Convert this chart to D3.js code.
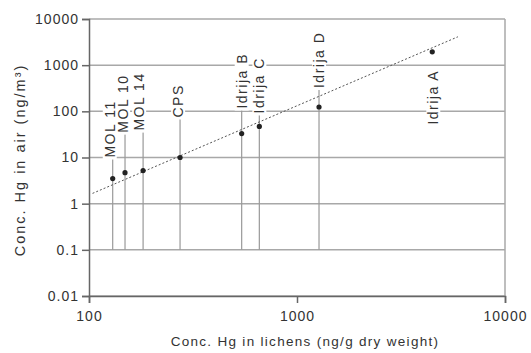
<!DOCTYPE html>
<html>
<head>
<meta charset="utf-8">
<script src="https://cdn.jsdelivr.net/npm/d3@7"></script>
<style>
  body { margin: 0; background: #fff; }
  text { font-family: "Liberation Sans", Arial, sans-serif; fill: #333; }
</style>
</head>
<body>
<div id="chart"></div>
<script>
// sites, Hg in lichens (ng/g dry weight) and Hg in air (ng/m3)
var sites = ["MOL 11", "MOL 10", "MOL 14", "CPS", "Idrija B", "Idrija C", "Idrija D", "Idrija A"];
var lichenHg = [130, 149, 182, 274, 542, 659, 1276, 4470];
var airHg = [3.5, 4.7, 5.2, 10, 33, 47, 124, 1950];

// dotted fit line, ends
var fitLichen = [104, 5940];
var fitAir = [1.67, 4120];

var yTicks = [0.01, 0.1, 1, 10, 100, 1000, 10000];
var xTicks = [100, 1000, 10000];

var width = 531;
var height = 353;
var margin = { top: 19, right: 26, bottom: 57, left: 89 };
var w = width - margin.left - margin.right;
var h = height - margin.top - margin.bottom;

var svg = d3
  .select("#chart")
  .append("svg")
  .attr("width", width)
  .attr("height", height);

var g = svg
  .append("g")
  .attr("transform", "translate(" + margin.left + "," + margin.top + ")");

var x = d3.scaleLog().domain([100, 10000]).range([0, w]);
var y = d3.scaleLog().domain([0.01, 10000]).range([h, 0]);

// horizontal grid
g.selectAll(".grid")
  .data(yTicks)
  .enter()
  .append("line")
  .attr("class", "grid")
  .attr("x1", 0)
  .attr("x2", w)
  .attr("y1", d => y(d))
  .attr("y2", d => y(d))
  .style("stroke", "#a8a8a8")
  .style("stroke-width", 1.5);

// right border
g.append("line")
  .attr("x1", w).attr("x2", w)
  .attr("y1", 0).attr("y2", h)
  .style("stroke", "#a8a8a8")
  .style("stroke-width", 1.5);

// label layout: gap between point and label (px), negative = below
var labelGap = [21, 40, 40, 40, 25, 13, 19, -18];
var labelShift = [-3, -2, -4, -2, 0, 0, 0, 1];

var pts = sites.map(function(s, i) {
  return { name: s, lx: lichenHg[i], ay: airHg[i], gap: labelGap[i], shift: labelShift[i] };
});

// drop lines
g.selectAll(".drop")
  .data(pts.filter(d => d.gap > 0))
  .enter()
  .append("line")
  .attr("class", "drop")
  .attr("x1", d => x(d.lx))
  .attr("x2", d => x(d.lx))
  .attr("y1", y(0.1))
  .attr("y2", d => y(d.ay) - d.gap)
  .style("stroke", "#999")
  .style("stroke-width", 1.2);

// fit line
g.append("line")
  .attr("x1", x(fitLichen[0]))
  .attr("y1", y(fitAir[0]))
  .attr("x2", x(fitLichen[1]))
  .attr("y2", y(fitAir[1]))
  .style("stroke", "#555")
  .style("stroke-width", 1)
  .style("stroke-dasharray", "2,2");

function labelPos(d) {
  var px = x(d.lx) + d.shift;
  var py = y(d.ay) - d.gap;
  return "translate(" + px + "," + py + ") rotate(-90)";
}

// white boxes first, text on top
var boxLayer = g.append("g");
var textLayer = g.append("g");

var labels = textLayer.selectAll("text")
  .data(pts)
  .enter()
  .append("text")
  .attr("transform", labelPos)
  .attr("text-anchor", d => (d.gap > 0 ? "start" : "end"))
  .attr("dy", "0.36em")
  .style("font-size", "14px")
  .style("letter-spacing", "1.5px")
  .text(d => d.name);

labels.each(function(d) {
  var b = this.getBBox();
  boxLayer.append("rect")
    .attr("transform", labelPos(d))
    .attr("x", b.x - 2)
    .attr("y", b.y + 1)
    .attr("width", b.width + 4)
    .attr("height", b.height - 2)
    .style("fill", "#fff");
});

// points
g.selectAll(".pt")
  .data(pts)
  .enter()
  .append("circle")
  .attr("class", "pt")
  .attr("cx", d => x(d.lx))
  .attr("cy", d => y(d.ay))
  .attr("r", 2.6)
  .style("fill", "#222");

// axes
var yAxis = d3.axisLeft(y)
  .tickValues(yTicks)
  .tickFormat(d => String(d))
  .tickSize(7)
  .tickPadding(3);
var xAxis = d3.axisBottom(x)
  .tickValues(xTicks)
  .tickFormat(d => String(d))
  .tickSize(7)
  .tickPadding(8);

var ya = g.append("g").call(yAxis);
var xa = g.append("g").attr("transform", "translate(0," + h + ")").call(xAxis);

[ya, xa].forEach(function(a) {
  a.select(".domain").style("stroke", "#666").style("stroke-width", 1.5);
  a.selectAll(".tick line").style("stroke", "#666").style("stroke-width", 1.5);
  a.selectAll(".tick text")
    .style("font-size", "14px")
    .style("letter-spacing", "1px")
    .style("fill", "#333")
    .style("font-family", "Liberation Sans, Arial, sans-serif");
});

// titles
svg.append("text")
  .attr("x", 305)
  .attr("y", 346)
  .attr("text-anchor", "middle")
  .style("font-size", "13.5px")
  .style("letter-spacing", "1.3px")
  .text("Conc. Hg in lichens (ng/g dry weight)");

svg.append("text")
  .attr("transform", "translate(25,160) rotate(-90)")
  .attr("text-anchor", "middle")
  .style("font-size", "14.5px")
  .style("letter-spacing", "2px")
  .text("Conc. Hg in air (ng/m³)");
</script>
</body>
</html>
